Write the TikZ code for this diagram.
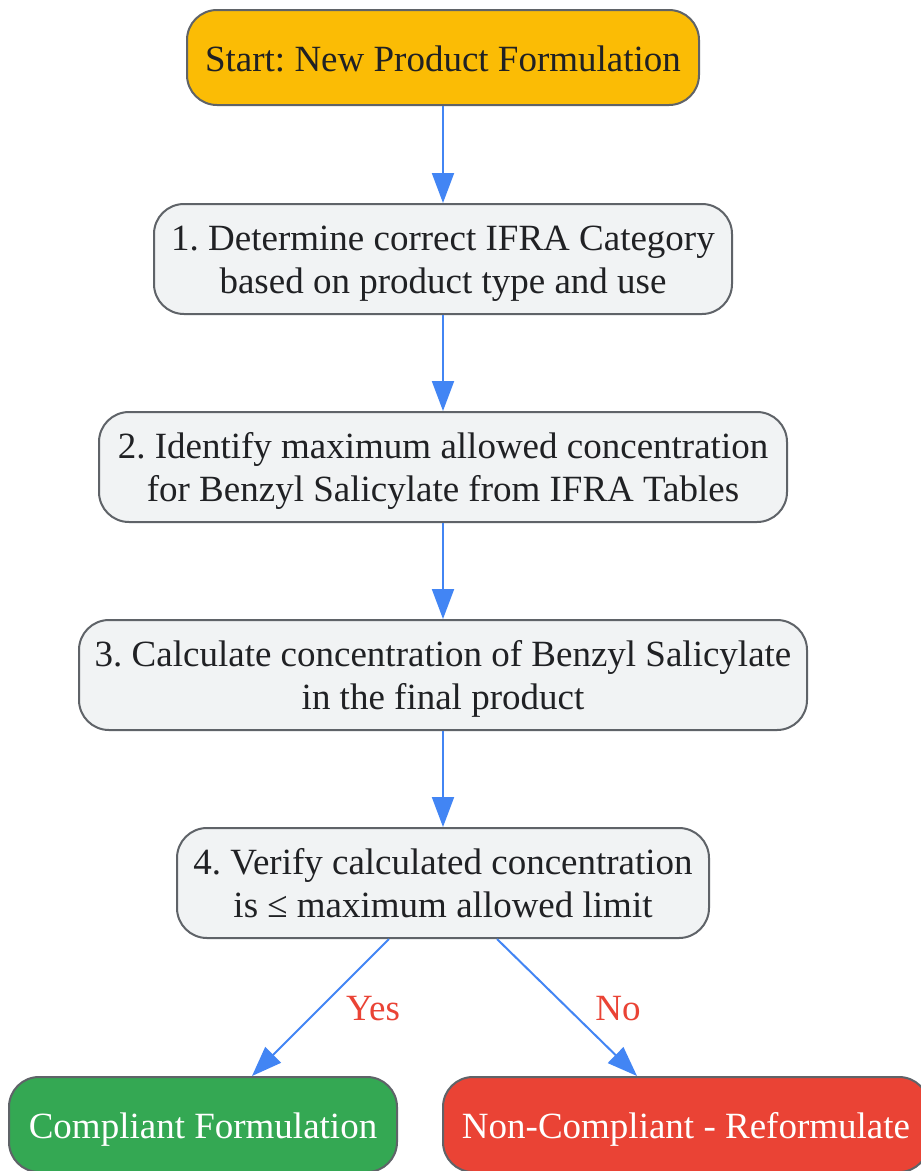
\documentclass[tikz,border=0pt]{standalone}
\usepackage{fontspec}
\setmainfont{Liberation Serif}
\frenchspacing
\usetikzlibrary{arrows.meta}
\definecolor{startfill}{HTML}{FBBC05}
\definecolor{stepfill}{HTML}{F1F3F4}
\definecolor{okfill}{HTML}{34A853}
\definecolor{badfill}{HTML}{EA4335}
\definecolor{edgegray}{HTML}{5F6368}
\definecolor{flowblue}{HTML}{4285F4}
\definecolor{textdark}{HTML}{202124}
\tikzset{
	box/.style={draw=edgegray, line width=2pt, rounded corners=30pt, align=center,
		inner xsep=4pt, inner ysep=2pt, text=textdark, font=\fontsize{37}{43}\selectfont},
	onebox/.style={box, minimum height=95pt, text height=30pt, text depth=3pt},
	twobox/.style={box, minimum height=110pt, text height=73pt, text depth=3.5pt},
	flow/.style={draw=flowblue, line width=2pt, -{Triangle[length=30pt,width=22pt]}},
	lab/.style={text=badfill, font=\fontsize{37}{43}\selectfont}
}
\begin{document}
\begin{tikzpicture}[x=1pt,y=-1pt]
	\useasboundingbox[fill=white] (0,0) rectangle (921,1171);
	\node[onebox, fill=startfill, minimum width=512pt](start) at (443,57.5) {Start: New Product Formulation};
	\node[twobox, fill=stepfill, minimum width=578pt](s1) at (443,259) {1. Determine correct IFRA Category\\based on product type and use};
	\node[twobox, fill=stepfill, minimum width=688pt](s2) at (443,467) {2. Identify maximum allowed concentration\\for Benzyl Salicylate from IFRA Tables};
	\node[twobox, fill=stepfill, minimum width=728pt](s3) at (443,675) {3. Calculate concentration of Benzyl Salicylate\\in the final product};
	\node[twobox, fill=stepfill, minimum width=532pt](s4) at (443,883) {4. Verify calculated concentration\\is ≤ maximum allowed limit};
	\node[onebox, fill=okfill, text=white, minimum width=388pt](ok) at (203,1124.5) {Compliant Formulation};
	\node[onebox, fill=badfill, text=white, minimum width=486pt](bad) at (686,1124.5) {Non-Compliant - Reformulate};
	\draw[flow] (start) -- (s1);
	\draw[flow] (s1) -- (s2);
	\draw[flow] (s2) -- (s3);
	\draw[flow] (s3) -- (s4);
	\draw[flow] ([xshift=-54pt]s4.south) -- ([xshift=49pt]ok.north);
	\draw[flow] ([xshift=54pt]s4.south) -- ([xshift=-49pt]bad.north);
	\node[lab](yes) at (373,1009) {Yes};
	\node[lab](no) at (618,1009) {No};
\end{tikzpicture}
\end{document}
